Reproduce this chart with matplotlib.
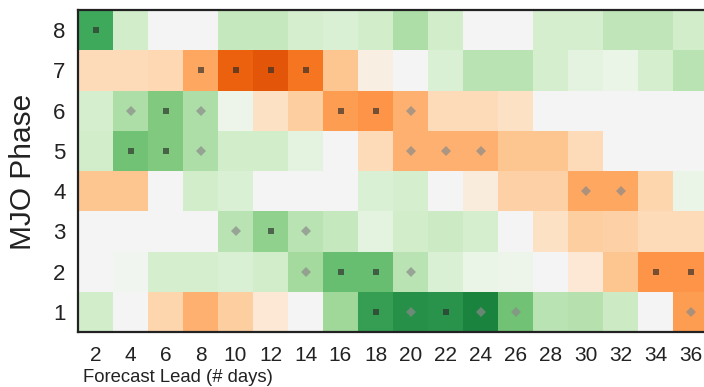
import numpy as np
import matplotlib
matplotlib.use("Agg")
import matplotlib.pyplot as plt
from matplotlib.colors import ListedColormap, to_rgba

# Forecast lead times (days) and MJO phases
leads = [2, 4, 6, 8, 10, 12, 14, 16, 18, 20, 22, 24, 26, 28, 30, 32, 34, 36]
phases = [1, 2, 3, 4, 5, 6, 7, 8]

# Anomaly per phase (positive = green, negative = orange)
phase1 = [0.20, 0.00, -0.25, -0.45, -0.30, -0.12, 0.00, 0.40, 0.75, 0.82, 0.80, 0.88, 0.55, 0.30, 0.32, 0.22, 0.00, -0.55]
phase2 = [0.00, 0.05, 0.18, 0.18, 0.15, 0.20, 0.38, 0.58, 0.58, 0.30, 0.15, 0.10, 0.08, 0.00, -0.12, -0.35, -0.60, -0.60]
phase3 = [0.00, 0.00, 0.00, 0.00, 0.30, 0.45, 0.30, 0.25, 0.12, 0.20, 0.22, 0.18, 0.00, -0.15, -0.30, -0.28, -0.20, -0.20]
phase4 = [-0.35, -0.35, 0.00, 0.20, 0.15, 0.00, 0.00, 0.00, 0.15, 0.18, 0.00, -0.10, -0.28, -0.28, -0.50, -0.50, -0.25, 0.10]
phase5 = [0.20, 0.55, 0.50, 0.35, 0.20, 0.20, 0.12, 0.00, -0.20, -0.45, -0.45, -0.45, -0.35, -0.35, -0.20, 0.00, 0.00, 0.00]
phase6 = [0.18, 0.35, 0.50, 0.35, 0.08, -0.15, -0.30, -0.55, -0.60, -0.45, -0.20, -0.20, -0.15, 0.00, 0.00, 0.00, 0.00, 0.00]
phase7 = [-0.20, -0.20, -0.22, -0.50, -0.85, -0.90, -0.75, -0.35, -0.08, 0.00, 0.15, 0.30, 0.30, 0.18, 0.12, 0.10, 0.18, 0.30]
phase8 = [0.70, 0.20, 0.00, 0.00, 0.25, 0.25, 0.18, 0.15, 0.20, 0.35, 0.20, 0.00, 0.00, 0.18, 0.18, 0.28, 0.28, 0.20]

# Significance flags: 0 = none, 1 = diamond, 2 = square
sig1 = [0, 0, 0, 0, 0, 0, 0, 0, 2, 1, 2, 1, 1, 0, 0, 0, 0, 1]
sig2 = [0, 0, 0, 0, 0, 0, 1, 2, 2, 1, 0, 0, 0, 0, 0, 0, 2, 2]
sig3 = [0, 0, 0, 0, 1, 2, 1, 0, 0, 0, 0, 0, 0, 0, 0, 0, 0, 0]
sig4 = [0, 0, 0, 0, 0, 0, 0, 0, 0, 0, 0, 0, 0, 0, 1, 1, 0, 0]
sig5 = [0, 2, 2, 1, 0, 0, 0, 0, 0, 1, 1, 1, 0, 0, 0, 0, 0, 0]
sig6 = [0, 1, 2, 1, 0, 0, 0, 2, 2, 1, 0, 0, 0, 0, 0, 0, 0, 0]
sig7 = [0, 0, 0, 2, 2, 2, 2, 0, 0, 0, 0, 0, 0, 0, 0, 0, 0, 0]
sig8 = [2, 0, 0, 0, 0, 0, 0, 0, 0, 0, 0, 0, 0, 0, 0, 0, 0, 0]

values = np.array([phase1, phase2, phase3, phase4, phase5, phase6, phase7, phase8])
signif = np.array([sig1, sig2, sig3, sig4, sig5, sig6, sig7, sig8])

# Diverging orange / grey / green colour map
grey = np.array(to_rgba("#f4f4f4"))
cols = []
for v in np.linspace(-1, 1, 256):
    a = abs(v)
    base = plt.cm.Oranges(0.04 + 0.72 * a) if v < 0 else plt.cm.Greens(0.04 + 0.84 * a)
    w = min(a / 0.15, 1.0)
    cols.append((1 - w) * grey + w * np.array(base))
cmap = ListedColormap(cols)

plt.rcParams["font.family"] = ["Liberation Sans", "DejaVu Sans"]

fig = plt.figure(figsize=(7.04, 3.87), dpi=100)
ax = fig.add_axes([78 / 704, 55 / 387, 630 / 704, 322 / 387])

ax.imshow(values, cmap=cmap, vmin=-1, vmax=1, origin="lower", aspect="auto",
          interpolation="nearest",
          extent=[leads[0] - 1, leads[-1] + 1, phases[0] - 0.5, phases[-1] + 0.5])

for i, ph in enumerate(phases):
    for j, ld in enumerate(leads):
        if signif[i, j] == 2:
            ax.plot(ld, ph, marker="s", ms=4.9, color="#2b2b2b", alpha=0.65,
                    markeredgewidth=0, linestyle="none")
        elif signif[i, j] == 1:
            ax.plot(ld, ph, marker="D", ms=4.6, color="#8a8a8a", alpha=0.7,
                    markeredgewidth=0, linestyle="none")

ax.set_xlim(leads[0] - 1, leads[-1] + 1)
ax.set_ylim(phases[0] - 0.5, phases[-1] + 0.5)
ax.set_xticks(leads)
ax.set_xticklabels([str(v) for v in leads], fontsize=15, color="#222222")
ax.set_yticks(phases)
ax.set_yticklabels([str(v) for v in phases], fontsize=16, color="#222222")
ax.tick_params(axis="x", length=0, pad=10)
ax.tick_params(axis="y", length=0, pad=9)
for s in ax.spines.values():
    s.set_linewidth(1.6)
    s.set_color("#222222")

fig.text(83 / 704, (387 - 381.5) / 387, "Forecast Lead (# days)", fontsize=13.3,
         ha="left", va="baseline", color="#222222")
fig.text(23 / 704, 1 - 172 / 387, "MJO Phase", fontsize=21.5, rotation=90,
         ha="center", va="center", color="#222222")

fig.savefig("out.png", dpi=100)
